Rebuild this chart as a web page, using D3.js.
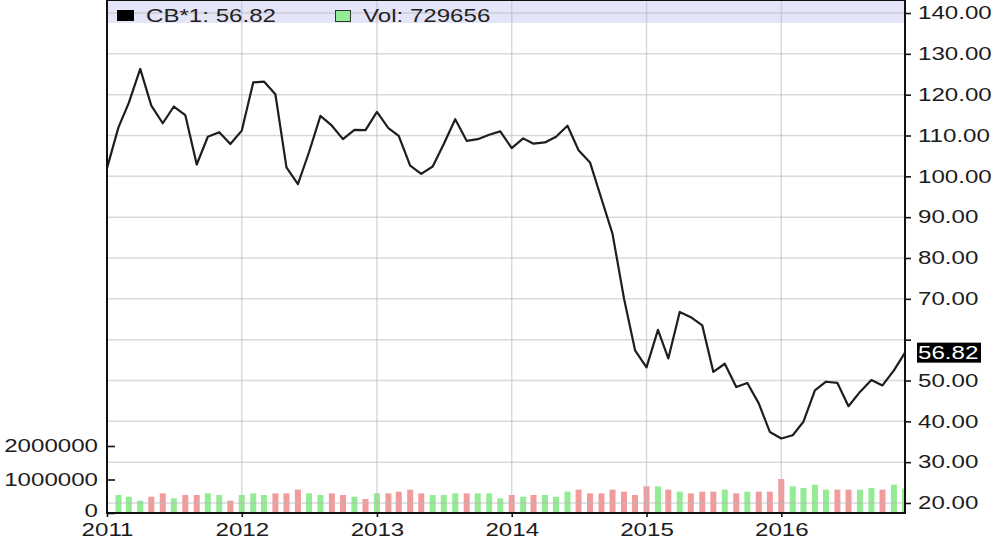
<!DOCTYPE html>
<html><head><meta charset="utf-8">
<script src="https://cdn.jsdelivr.net/npm/d3@7"></script>
<style>
html,body{margin:0;padding:0;background:#fff;}
svg{display:block;font-family:"Liberation Sans",Arial,sans-serif;}
</style>
</head><body>
<svg id="c" width="1000" height="550"></svg>
<script>
// ---------- data ----------
const startMonth = "2011-01";           // monthly closes, Jan 2011 .. Dec 2016
const price = [
  102.0, 112.0, 118.0, 126.3, 117.3, 113.0, 117.1, 115.0, 102.9, 109.7, 110.8, 107.9,
  111.2, 123.0, 123.2, 120.1, 102.2,  98.1, 105.9, 114.8, 112.4, 109.1, 111.4, 111.3,
  115.8, 111.8, 109.9, 102.6, 100.6, 102.4, 107.9, 114.0, 108.7, 109.1, 110.2, 111.0,
  106.9, 109.3, 108.0, 108.3, 109.7, 112.4, 106.4, 103.4,  94.5,  85.9,  70.1,  57.4,
   53.2,  62.4,  55.4,  66.8,  65.5,  63.5,  52.1,  54.1,  48.4,  49.4,  44.4,  37.4,
   35.8,  36.6,  39.9,  47.6,  49.7,  49.4,  43.7,  47.2,  50.1,  48.8,  52.5,  56.82
];
// volume per month (first month has no bar)
const volume = [
  null,   537000, 487000, 368000, 487000, 587000, 438000, 537000, 537000, 587000, 537000, 368000,
  537000, 587000, 537000, 587000, 587000, 697000, 587000, 537000, 587000, 537000, 487000, 418000,
  587000, 587000, 637000, 697000, 587000, 537000, 537000, 587000, 587000, 587000, 587000, 438000,
  537000, 487000, 537000, 537000, 487000, 637000, 697000, 587000, 587000, 697000, 637000, 537000,
  796000, 796000, 697000, 637000, 587000, 637000, 637000, 697000, 587000, 637000, 637000, 637000,
  1015000, 796000, 746000, 846000, 697000, 697000, 697000, 697000, 746000, 697000, 846000, 729656
];
const yearLabels = ["2011", "2012", "2013", "2014", "2015", "2016"];
const priceTicks = [20, 30, 40, 50, 60, 70, 80, 90, 100, 110, 120, 130, 140];
const priceTickLabels = ["20.00", "30.00", "40.00", "50.00", "", "70.00", "80.00", "90.00",
                         "100.00", "110.00", "120.00", "130.00", "140.00"];
const volTicks = [0, 1000000, 2000000];
const volTickLabels = ["0", "1000000", "2000000"];
const legendPrice = "CB*1: 56.82";
const legendVol = "Vol: 729656";
const lastLabel = "56.82";

// ---------- layout ----------
const L = 107, R = 905, B = 513, T = 0;
const SX = 1.34;               // horizontal text stretch of the reference
const FS = 18;
const svg = d3.select("#c");

const parse = d3.utcParse("%Y-%m");
const months = d3.utcMonth.range(parse(startMonth), d3.utcMonth.offset(parse(startMonth), price.length));
const x = d3.scaleUtc().domain([months[0], months[months.length - 1]]).range([L, R]);
const y = d3.scaleLinear().domain([20, 140]).range([503, 13]);
const yv = d3.scaleLinear().domain([0, 1000000]).range([B, B - 33.5]);

svg.append("rect").attr("width", 1000).attr("height", 550).attr("fill", "#fff");
svg.append("defs").append("clipPath").attr("id", "plot")
  .append("rect").attr("x", L).attr("y", T).attr("width", R - L).attr("height", B - T);

// legend band
svg.append("rect").attr("x", L).attr("y", 0).attr("width", R - L).attr("height", 23).attr("fill", "#e5e5f9");

// volume bars
const bars = months.map((d, i) => ({d, v: volume[i], up: i > 0 && price[i] >= price[i - 1]}))
  .filter(o => o.v != null);
svg.append("g").attr("clip-path", "url(#plot)")
  .selectAll("rect").data(bars).join("rect")
  .attr("x", o => x(o.d) - 3).attr("width", 6)
  .attr("y", o => yv(o.v)).attr("height", o => B - yv(o.v))
  .attr("fill", o => o.up ? "#93ec93" : "#f19c9c");

// grid
const grid = svg.append("g").attr("stroke", "rgba(185,185,185,0.55)").attr("stroke-width", 1.5);
grid.selectAll("line.h").data(priceTicks).join("line").attr("class", "h")
  .attr("x1", L).attr("x2", R).attr("y1", d => y(d)).attr("y2", d => y(d));
const yearDates = yearLabels.map(s => d3.utcParse("%Y")(s));
grid.selectAll("line.v").data(yearDates.slice(1)).join("line").attr("class", "v")
  .attr("x1", d => x(d)).attr("x2", d => x(d)).attr("y1", T).attr("y2", B);

// price line
svg.append("path").datum(price)
  .attr("clip-path", "url(#plot)")
  .attr("fill", "none").attr("stroke", "#1e1e1e").attr("stroke-width", 2.2)
  .attr("stroke-linejoin", "round")
  .attr("d", d3.line().x((d, i) => x(months[i])).y(d => y(d)));

// frame lines
const frame = svg.append("g").attr("stroke", "#111").attr("stroke-width", 2);
frame.append("line").attr("x1", L).attr("x2", L).attr("y1", 0).attr("y2", B + 1);
frame.append("line").attr("x1", R).attr("x2", R).attr("y1", 0).attr("y2", B + 1);
frame.append("line").attr("x1", L).attr("x2", R).attr("y1", B).attr("y2", B);
frame.append("line").attr("x1", L).attr("x2", R).attr("y1", 0.5).attr("y2", 0.5).attr("stroke-width", 1);

function styleAxis(g, tx) {
  g.select(".domain").remove();
  g.selectAll(".tick line").attr("stroke", "#111").attr("stroke-width", 1.6);
  g.selectAll(".tick text").attr("font-size", FS).attr("fill", "#1c1c1c")
    .attr("font-family", '"Liberation Sans",Arial,sans-serif')
    .attr("x", tx / SX).attr("transform", `scale(${SX},1)`);
}

// right price axis
svg.append("g").attr("transform", `translate(${R},0)`)
  .call(d3.axisRight(y).tickValues(priceTicks).tickSize(6).tickFormat((d, i) => priceTickLabels[i]))
  .call(g => styleAxis(g, 13));

// left volume axis (ticks inward)
svg.append("g").attr("transform", `translate(${L},0)`)
  .call(d3.axisLeft(yv).tickValues(volTicks).tickSize(-8).tickFormat((d, i) => volTickLabels[i]))
  .call(g => {
    styleAxis(g, -9);
    g.selectAll(".tick text").filter(d => d === 0).attr("y", -2.5);
  });

// bottom time axis
svg.append("g").attr("transform", `translate(0,${B})`)
  .call(d3.axisBottom(x).tickValues(yearDates).tickSize(4).tickFormat((d, i) => yearLabels[i]))
  .call(g => { styleAxis(g, 0); g.selectAll(".tick text").attr("y", 10.5); });

// current value marker
const lastY = y(price[price.length - 1]);
svg.append("rect").attr("x", 917).attr("y", lastY - 10).attr("width", 64).attr("height", 20).attr("fill", "#000");
svg.append("text").attr("transform", `translate(918,${lastY + 6.5}) scale(${SX},1)`)
  .attr("font-size", FS).attr("fill", "#fff").text(lastLabel);

// legend
svg.append("rect").attr("x", 117).attr("y", 10).attr("width", 17).attr("height", 11).attr("fill", "#000");
svg.append("text").attr("transform", `translate(146,22) scale(${SX},1)`)
  .attr("font-size", FS).attr("fill", "#222").text(legendPrice);
svg.append("rect").attr("x", 335.5).attr("y", 10.5).attr("width", 15).attr("height", 11)
  .attr("fill", "#93ec93").attr("stroke", "#333").attr("stroke-width", 1);
svg.append("text").attr("transform", `translate(363,22) scale(${SX},1)`)
  .attr("font-size", FS).attr("fill", "#222").text(legendVol);
</script>
</body></html>
